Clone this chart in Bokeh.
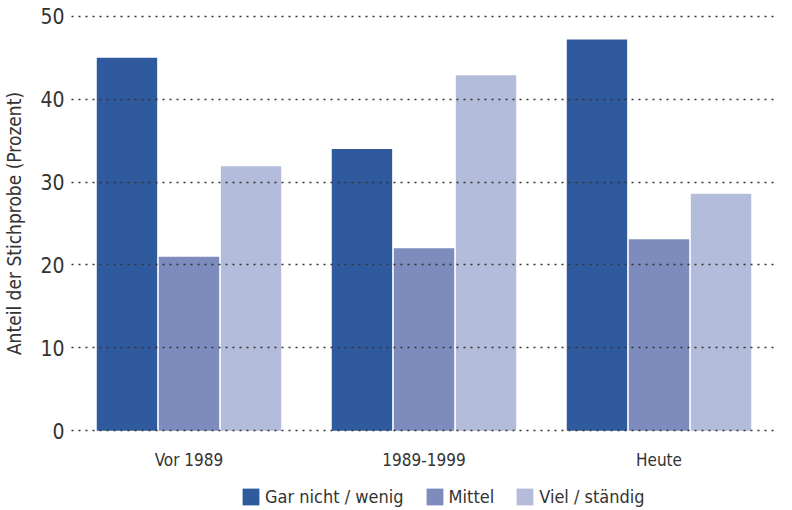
from bokeh.plotting import figure
from bokeh.layouts import column
from bokeh.models import ColumnDataSource, Range1d, Legend, LegendItem, FactorRange
from bokeh.transform import dodge
from bokeh.embed import file_html
from bokeh.resources import INLINE

categories = ["Vor 1989", "1989-1999", "Heute"]
series_names = ["Gar nicht / wenig", "Mittel", "Viel / ständig"]
gar_nicht = [45.0, 34.0, 47.2]
mittel = [21.0, 22.0, 23.1]
viel = [31.9, 42.9, 28.6]
y_ticks = [0, 10, 20, 30, 40, 50]

colors = ["#2f5b9e", "#7d8bbd", "#b3bcda"]
FONT = "DejaVu Sans Condensed, Roboto"
TXT = "#333333"

src = ColumnDataSource(dict(cat=categories, g=gar_nicht, m=mittel, v=viel))

p = figure(x_range=FactorRange(*categories, range_padding=0), y_range=Range1d(-0.1, 50.1),
           width=776, height=472, output_backend="svg", toolbar_location=None,
           min_border_left=65, min_border_right=0, min_border_top=15, min_border_bottom=40)
p.outline_line_color = None

for col, off, c in zip(["g", "m", "v"], [-0.264, 0.0, 0.264], colors):
    p.vbar(x=dodge("cat", off, range=p.x_range), top=col, bottom=0, width=0.257, source=src,
           fill_color=c, line_color=None)

p.xgrid.grid_line_color = None
p.ygrid.grid_line_color = "#333333"
p.ygrid.grid_line_dash = "2 5"
p.ygrid.grid_line_width = 1.5
p.ygrid.level = "overlay"
p.yaxis.ticker = y_ticks

for ax in (p.xaxis[0], p.yaxis[0]):
    ax.axis_line_color = None
    ax.major_tick_line_color = None
    ax.minor_tick_line_color = None
    ax.major_tick_out = 0
    ax.major_tick_in = 0
    ax.major_label_text_font = FONT
    ax.major_label_text_color = TXT
ax = p.yaxis[0]
ax.major_label_text_font_size = "21px"
ax.major_label_standoff = 7
ax.axis_label = "Anteil der Stichprobe (Prozent)"
ax.axis_label_text_font = FONT
ax.axis_label_text_font_size = "19px"
ax.axis_label_text_font_style = "normal"
ax.axis_label_text_color = TXT
ax.axis_label_standoff = 12
p.xaxis[0].major_label_text_font_size = "17px"
p.xaxis[0].major_label_standoff = 18

# legend strip (zero-size proxy glyphs only carry the legend colours)
lg = figure(width=776, height=38, output_backend="svg", toolbar_location=None,
            x_range=Range1d(0, 1), y_range=Range1d(0, 1),
            min_border_left=0, min_border_right=0, min_border_top=0, min_border_bottom=0)
lg.axis.visible = False
lg.grid.visible = False
lg.outline_line_color = None
proxies = [lg.vbar(x=[0], top=[0], bottom=[0], width=0, fill_color=c, line_color=None) for c in colors]
legend = Legend(items=[LegendItem(label=n, renderers=[r]) for n, r in zip(series_names, proxies)],
                orientation="horizontal", location=(169, 3),
                label_text_font=FONT, label_text_font_size="18px", label_text_color=TXT,
                glyph_width=21, glyph_height=21, label_height=21, spacing=20, label_standoff=4,
                border_line_color=None, background_fill_alpha=0, margin=0, padding=4)
lg.add_layout(legend, "center")

layout = column(p, lg, spacing=0)
open("out.html", "w").write(file_html(layout, INLINE))
